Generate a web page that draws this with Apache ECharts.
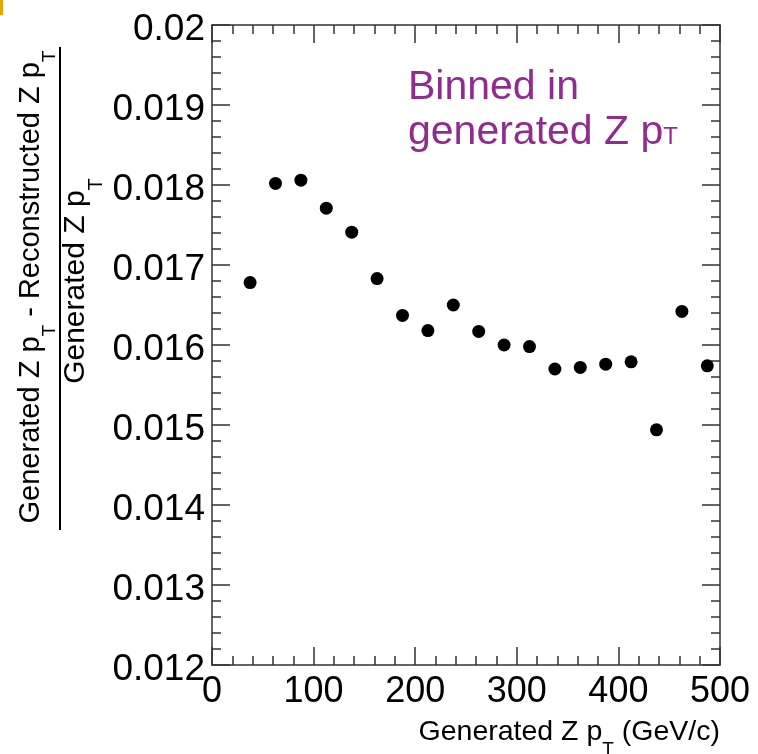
<!DOCTYPE html>
<html style="height: 100%">
<head>
    <meta charset="utf-8">
    <title>Z pT resolution</title>
</head>
<body style="margin: 0; background: #fff">
<div id="container" style="width: 758px; height: 754px"></div>

<script src="https://cdn.jsdelivr.net/npm/echarts@6.0.0/dist/echarts.min.js" type="text/javascript"></script>

<script type="text/javascript">

    // bin centres in generated Z pT (GeV/c)
    var binCenters = [37.5, 62.5, 87.5, 112.5, 137.5, 162.5, 187.5, 212.5, 237.5, 262.5,
        287.5, 312.5, 337.5, 362.5, 387.5, 412.5, 437.5, 462.5, 487.5];

    // (gen pT - reco pT) / gen pT
    var ratioValues = [0.01678, 0.01802, 0.01806, 0.01771, 0.01741, 0.01683, 0.01637, 0.01618,
        0.01650, 0.01617, 0.01600, 0.01598, 0.01570, 0.01572, 0.01576, 0.01579, 0.01494,
        0.01642, 0.01574];

    var xTicks = [0, 100, 200, 300, 400, 500];
    var yTicks = [0.012, 0.013, 0.014, 0.015, 0.016, 0.017, 0.018, 0.019, 0.02];

    var points = [];
    for (var i = 0; i < binCenters.length; i++) {
        points.push([binCenters[i], ratioValues[i]]);
    }

    var font = '"Liberation Sans", Arial, sans-serif';
    var frameLine = {color: '#333', width: 1.5};

    function axisBase(show) {
        return {
            axisLine: {show: true, onZero: false, lineStyle: frameLine},
            axisTick: {show: true, inside: true, length: 18, lineStyle: frameLine},
            minorTick: {show: true, splitNumber: 5, length: 9, lineStyle: frameLine},
            splitLine: {show: false},
            axisLabel: {show: show}
        };
    }

    var xBottom = axisBase(true);
    xBottom.type = 'value';
    xBottom.position = 'bottom';
    xBottom.min = xTicks[0];
    xBottom.max = xTicks[xTicks.length - 1];
    xBottom.interval = 100;
    xBottom.axisLabel = {show: true, fontSize: 36, fontFamily: font, color: '#000', margin: 9};

    var xTop = axisBase(false);
    xTop.type = 'value';
    xTop.position = 'top';
    xTop.min = xBottom.min;
    xTop.max = xBottom.max;
    xTop.interval = 100;

    var yLeft = axisBase(true);
    yLeft.type = 'value';
    yLeft.position = 'left';
    yLeft.min = yTicks[0];
    yLeft.max = yTicks[yTicks.length - 1];
    yLeft.interval = 0.001;
    yLeft.axisLabel = {
        show: true, fontSize: 37, fontFamily: font, color: '#000', margin: 7,
        verticalAlign: 'top', lineHeight: 10,
        formatter: function (v) { return String(+v.toFixed(3)); }
    };

    var yRight = axisBase(false);
    yRight.type = 'value';
    yRight.position = 'right';
    yRight.min = yLeft.min;
    yRight.max = yLeft.max;
    yRight.interval = 0.001;

    var dom = document.getElementById('container');
    var myChart = echarts.init(dom, null, {renderer: 'canvas'});

    var option = {
        backgroundColor: '#fff',
        animation: false,
        grid: {left: 212, top: 25, width: 508, height: 640, containLabel: false},
        xAxis: [xBottom, xTop],
        yAxis: [yLeft, yRight],
        series: [{
            type: 'scatter',
            xAxisIndex: 0,
            yAxisIndex: 0,
            symbol: 'circle',
            symbolSize: 13,
            itemStyle: {color: '#000', opacity: 1},
            data: points
        }],
        graphic: [
            // small orange mark in the corner
            {type: 'rect', left: 0, top: 0, shape: {width: 3, height: 15}, style: {fill: '#e8a400'}},
            // numerator of the y title
            {
                type: 'text', x: 16, y: 287, rotation: Math.PI / 2,
                style: {
                    text: '{m|Generated Z p}{s|T}{m| - Reconstructed Z p}{s|T}',
                    align: 'center', verticalAlign: 'top',
                    rich: {
                        m: {fontSize: 29, fontFamily: font, fill: '#000', lineHeight: 30, verticalAlign: 'top'},
                        s: {fontSize: 19, fontFamily: font, fill: '#000', lineHeight: 20, verticalAlign: 'top', padding: [24, 0, 0, 0]}
                    }
                }
            },
            // fraction bar
            {type: 'line', shape: {x1: 60, y1: 47, x2: 60, y2: 530}, style: {stroke: '#000', lineWidth: 2}},
            // denominator
            {
                type: 'text', x: 61, y: 281, rotation: Math.PI / 2,
                style: {
                    text: '{m|Generated Z p}{s|T}',
                    align: 'center', verticalAlign: 'top',
                    rich: {
                        m: {fontSize: 30, fontFamily: font, fill: '#000', lineHeight: 31, verticalAlign: 'top'},
                        s: {fontSize: 20, fontFamily: font, fill: '#000', lineHeight: 20, verticalAlign: 'top', padding: [25, 0, 0, 0]}
                    }
                }
            },
            // x title
            {
                type: 'text', x: 720, y: 718,
                style: {
                    text: '{m|Generated Z p}{s|T}{m| (GeV/c)}',
                    align: 'right', verticalAlign: 'top',
                    rich: {
                        m: {fontSize: 28.5, fontFamily: font, fill: '#000', lineHeight: 29, verticalAlign: 'top'},
                        s: {fontSize: 19, fontFamily: font, fill: '#000', lineHeight: 19, verticalAlign: 'top', padding: [22, 0, 0, 0]}
                    }
                }
            },
            // annotation
            {
                type: 'text', x: 408, y: 88,
                style: {text: 'Binned in', fontSize: 41, fontFamily: font, fill: '#922b90', align: 'left', verticalAlign: 'middle'}
            },
            {
                type: 'text', x: 408, y: 112,
                style: {
                    text: '{m|generated Z p}{t|T}',
                    align: 'left', verticalAlign: 'top',
                    rich: {
                        m: {fontSize: 41, fontFamily: font, fill: '#922b90', lineHeight: 41, verticalAlign: 'bottom'},
                        t: {fontSize: 24, fontFamily: font, fill: '#922b90', lineHeight: 24, verticalAlign: 'bottom', padding: [0, 0, 4, 0]}
                    }
                }
            }
        ]
    };

    myChart.setOption(option);

</script>
</body>
</html>
